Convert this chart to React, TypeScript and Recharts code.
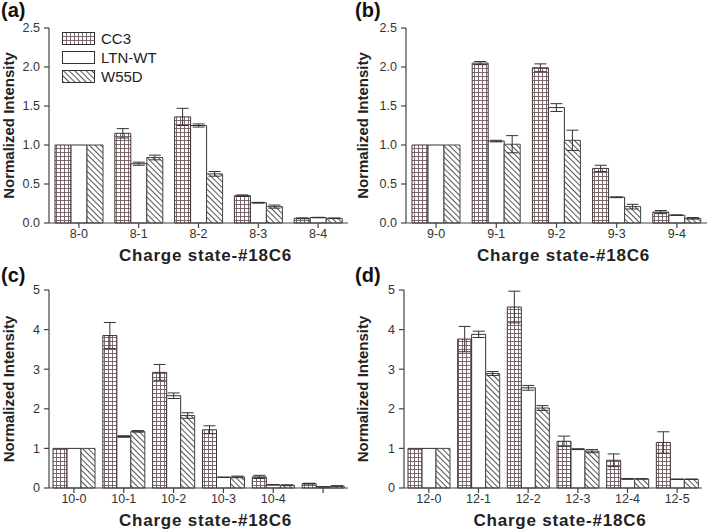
import { BarChart, Bar, XAxis, YAxis, ErrorBar, Label } from "recharts";

const FONT = "'Liberation Sans', Arial, sans-serif";
const SERIES = ["CC3", "LTN-WT", "W55D"];

// (a) charge state 8
const catsA = ["8-0", "8-1", "8-2", "8-3", "8-4"];
const cc3A = [1, 1.15, 1.36, 0.35, 0.06];
const cc3ErrA = [0, 0.06, 0.11, 0.01, 0.005];
const ltnA = [1, 0.76, 1.25, 0.26, 0.07];
const ltnErrA = [0, 0.02, 0.02, 0.005, 0.003];
const w55dA = [1, 0.84, 0.63, 0.21, 0.06];
const w55dErrA = [0, 0.03, 0.03, 0.02, 0.004];

// (b) charge state 9
const catsB = ["9-0", "9-1", "9-2", "9-3", "9-4"];
const cc3B = [1, 2.05, 1.99, 0.7, 0.14];
const cc3ErrB = [0, 0.02, 0.05, 0.04, 0.02];
const ltnB = [1, 1.05, 1.48, 0.33, 0.1];
const ltnErrB = [0, 0.01, 0.05, 0.005, 0.004];
const w55dB = [1, 1.01, 1.06, 0.21, 0.06];
const w55dErrB = [0, 0.11, 0.13, 0.03, 0.01];

// (c) charge state 10 (last group has no label)
const catsC = ["10-0", "10-1", "10-2", "10-3", "10-4", ""];
const cc3C = [1, 3.85, 2.92, 1.47, 0.28, 0.11];
const cc3ErrC = [0, 0.33, 0.2, 0.1, 0.04, 0.01];
const ltnC = [1, 1.3, 2.33, 0.27, 0.08, 0.03];
const ltnErrC = [0, 0.02, 0.07, 0.005, 0.003, 0.002];
const w55dC = [1, 1.43, 1.83, 0.28, 0.07, 0.05];
const w55dErrC = [0, 0.02, 0.07, 0.02, 0.01, 0.005];

// (d) charge state 12
const catsD = ["12-0", "12-1", "12-2", "12-3", "12-4", "12-5"];
const cc3D = [1, 3.76, 4.57, 1.18, 0.7, 1.15];
const cc3ErrD = [0, 0.32, 0.4, 0.13, 0.16, 0.27];
const ltnD = [1, 3.88, 2.53, 0.98, 0.23, 0.22];
const ltnErrD = [0, 0.08, 0.06, 0.01, 0.01, 0.005];
const w55dD = [1, 2.89, 2.02, 0.93, 0.23, 0.22];
const w55dErrD = [0, 0.05, 0.06, 0.04, 0.005, 0.005];

const ticksSmall = [0, 0.5, 1, 1.5, 2, 2.5];
const ticksLarge = [0, 1, 2, 3, 4, 5];

function rows(
  cats: string[],
  cc3: number[], cc3Err: number[],
  ltn: number[], ltnErr: number[],
  w55d: number[], w55dErr: number[]
) {
  return cats.map((c, i) => ({
    cat: c,
    cc3: cc3[i], cc3Err: cc3Err[i],
    ltn: ltn[i], ltnErr: ltnErr[i],
    w55d: w55d[i], w55dErr: w55dErr[i],
  }));
}

function Patterns({ id }: { id: string }) {
  return (
    <defs>
      <pattern id={`grid-${id}`} width={4} height={4} patternUnits="userSpaceOnUse">
        <rect width={4} height={4} fill="#fff" />
        <path d="M0 0.5 H4 M0.5 0 V4" stroke="#6e5a5c" strokeWidth={0.9} />
      </pattern>
      <pattern
        id={`hatch-${id}`}
        width={4}
        height={4}
        patternUnits="userSpaceOnUse"
        patternTransform="rotate(-45)"
      >
        <rect width={4} height={4} fill="#fff" />
        <line x1={0.5} y1={0} x2={0.5} y2={4} stroke="#555" strokeWidth={1} />
      </pattern>
    </defs>
  );
}

interface PanelProps {
  id: string;
  tag: string;
  data: ReturnType<typeof rows>;
  left: number;
  top: number;
  yWidth: number;
  right: number;
  mTop: number;
  yMax: number;
  ticks: number[];
  decimals: number;
  barSize: number;
}

function Panel(p: PanelProps) {
  const axisStroke = "#444";
  return (
    <div style={{ position: "absolute", left: p.left, top: p.top, width: 355, height: 265 }}>
      <BarChart
        width={355}
        height={265}
        data={p.data}
        margin={{ top: p.mTop, right: p.right, left: 0, bottom: 0 }}
        barGap={0}
        barSize={p.barSize}
        style={{ fontFamily: FONT }}
      >
        <Patterns id={p.id} />
        <XAxis
          dataKey="cat"
          height={42}
          stroke={axisStroke}
          strokeWidth={1.2}
          tickSize={5}
          tickMargin={1}
          tick={{ fill: "#333", fontSize: 12.5 }}
          interval={0}
        >
          <Label
            value="Charge state-#18C6"
            position="insideBottom"
            offset={4}
            dx={7}
            style={{ fontSize: 17, fontWeight: 700, fill: "#222", letterSpacing: 0.8 }}
          />
        </XAxis>
        <YAxis
          width={p.yWidth}
          domain={[0, p.yMax]}
          ticks={p.ticks}
          stroke={axisStroke}
          strokeWidth={1.2}
          tickSize={5}
          tickMargin={4}
          tick={{ fill: "#333", fontSize: 12.5 }}
          tickFormatter={(v: number) => v.toFixed(p.decimals)}
        >
          <Label
            value="Normalized Intensity"
            angle={-90}
            position="insideLeft"
            offset={9}
            style={{ fontSize: 15, fontWeight: 700, fill: "#222", textAnchor: "middle" }}
          />
        </YAxis>
        <Bar dataKey="cc3" name={SERIES[0]} fill={`url(#grid-${p.id})`} stroke="#3f3434" strokeWidth={1} isAnimationActive={false}>
          <ErrorBar dataKey="cc3Err" width={6} stroke="#333" strokeWidth={1} />
        </Bar>
        <Bar dataKey="ltn" name={SERIES[1]} fill="#fff" stroke="#333" strokeWidth={1} isAnimationActive={false}>
          <ErrorBar dataKey="ltnErr" width={6} stroke="#333" strokeWidth={1} />
        </Bar>
        <Bar dataKey="w55d" name={SERIES[2]} fill={`url(#hatch-${p.id})`} stroke="#444" strokeWidth={1} isAnimationActive={false}>
          <ErrorBar dataKey="w55dErr" width={6} stroke="#333" strokeWidth={1} />
        </Bar>
      </BarChart>
      <div
        style={{
          position: "absolute",
          left: 1,
          top: 0,
          fontFamily: FONT,
          fontWeight: 700,
          fontSize: 20,
          lineHeight: "20px",
          color: "#111",
        }}
      >
        {p.tag}
      </div>
    </div>
  );
}

function LegendBox() {
  const items = [
    { name: SERIES[0], fill: "url(#grid-lg)" },
    { name: SERIES[1], fill: "#fff" },
    { name: SERIES[2], fill: "url(#hatch-lg)" },
  ];
  return (
    <div style={{ position: "absolute", left: 62, top: 29, fontFamily: FONT }}>
      <svg width={1} height={1} style={{ position: "absolute", left: 0, top: 0 }}>
        <Patterns id="lg" />
      </svg>
      {items.map((it) => (
        <div key={it.name} style={{ display: "flex", alignItems: "center", height: 19 }}>
          <svg width={33} height={13}>
            <rect x={0.5} y={0.5} width={32} height={12} fill={it.fill} stroke="#333" />
          </svg>
          <span style={{ marginLeft: 6, fontSize: 15, color: "#222" }}>{it.name}</span>
        </div>
      ))}
    </div>
  );
}

export default function App() {
  return (
    <div style={{ position: "absolute", left: 0, top: 0, width: 709, height: 531, background: "#fff" }}>
      <Panel id="a" tag="(a)" data={rows(catsA, cc3A, cc3ErrA, ltnA, ltnErrA, w55dA, w55dErrA)}
        left={0} top={0} yWidth={49} right={7} mTop={28} yMax={2.5} ticks={ticksSmall} decimals={1} barSize={16} />
      <Panel id="b" tag="(b)" data={rows(catsB, cc3B, cc3ErrB, ltnB, ltnErrB, w55dB, w55dErrB)}
        left={354} top={0} yWidth={52} right={2} mTop={28} yMax={2.5} ticks={ticksSmall} decimals={1} barSize={16} />
      <Panel id="c" tag="(c)" data={rows(catsC, cc3C, cc3ErrC, ltnC, ltnErrC, w55dC, w55dErrC)}
        left={0} top={265} yWidth={49} right={7} mTop={25} yMax={5} ticks={ticksLarge} decimals={0} barSize={14} />
      <Panel id="d" tag="(d)" data={rows(catsD, cc3D, cc3ErrD, ltnD, ltnErrD, w55dD, w55dErrD)}
        left={354} top={265} yWidth={50} right={7} mTop={25} yMax={5} ticks={ticksLarge} decimals={0} barSize={14} />
      <LegendBox />
    </div>
  );
}
